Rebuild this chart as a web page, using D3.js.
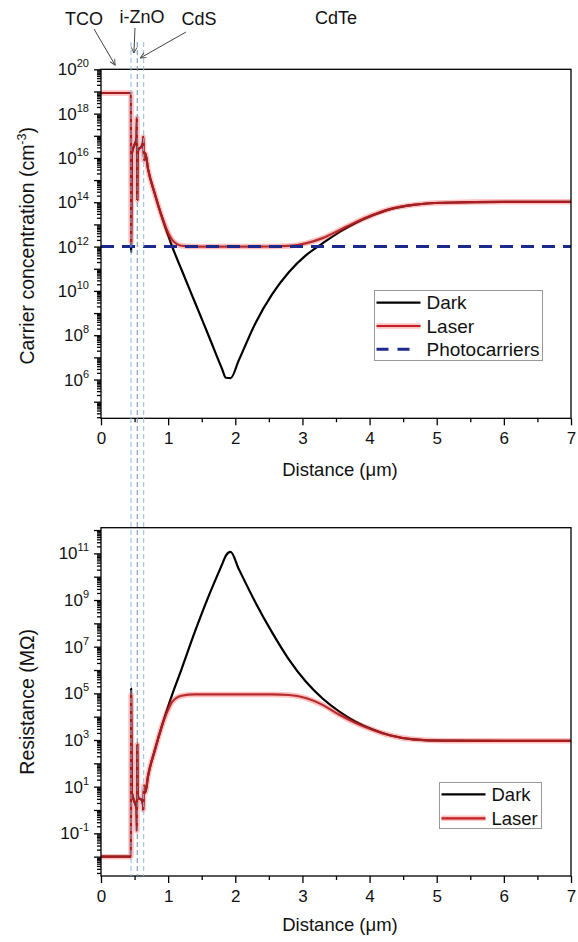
<!DOCTYPE html>
<html><head><meta charset="utf-8">
<script src="https://cdn.jsdelivr.net/npm/d3@7"></script>
<style>
body{margin:0;background:#fff}
svg{display:block;font-family:"Liberation Sans",Arial,Helvetica,sans-serif}
</style>
</head><body>
<svg id="c" width="578" height="942"></svg>
<script>
// ---------------- data ----------------
const distance = [0, 0.447, 0.448, 0.46, 0.50, 0.53, 0.535, 0.54, 0.545, 0.56, 0.60, 0.625, 0.63, 0.64, 0.66, 0.70, 0.80, 0.90, 1.00, 1.06, 1.20, 1.40, 1.60, 1.80, 1.86, 1.93, 2.05, 2.30, 2.55, 2.80, 3.05, 3.30, 3.55, 3.80, 4.05, 4.30, 4.65, 5.10, 6.00, 7.00];

// carrier concentration (cm^-3)
const darkCarrier  = [8.5e18, 8.5e18, 5.6e11, 1.6e16, 4.0e16, 7.9e16, 6.3e17, 1.3e14, 1.6e16, 2.5e16, 3.2e16, 5.0e16, 8.9e16, 7.9e15, 1.6e16, 3.2e15, 2.5e14, 2.5e13, 3.2e12, 1.0e12, 9.0e10, 3.0e9, 1.0e8, 3.2e6, 1.2e6, 1.15e6, 7.1e6, 3.5e8, 7.1e9, 7.1e10, 4.0e11, 1.4e12, 4.5e12, 1.2e13, 2.6e13, 4.8e13, 7.6e13, 9.5e13, 1.05e14, 1.05e14];
const laserCarrier = [8.5e18, 8.5e18, 1.56e12, 1.6e16, 4.0e16, 7.9e16, 6.3e17, 1.3e14, 1.6e16, 2.5e16, 3.2e16, 5.0e16, 8.9e16, 7.9e15, 1.6e16, 3.2e15, 2.5e14, 2.6e13, 4.2e12, 2.0e12, 1.09e12, 1.0e12, 1.0e12, 1.0e12, 1.0e12, 1.0e12, 1.0e12, 1.0e12, 1.01e12, 1.07e12, 1.4e12, 2.4e12, 5.5e12, 1.3e13, 2.7e13, 4.9e13, 7.6e13, 9.5e13, 1.05e14, 1.05e14];
const photoDistance = [0, 7];
const photoCarrier  = [1e12, 1e12];

// resistance (MOhm)
const darkResistance  = [0.01, 0.01, 1.6e5, 5.6, 2.2, 1.1, 0.13, 630, 5.0, 3.2, 2.8, 1.8, 1.0, 11, 5.6, 28, 350, 3500, 2.8e4, 8.9e4, 1.1e6, 4.5e7, 1.4e9, 3.2e10, 8.0e10, 1.15e11, 2.2e10, 7.9e8, 4.0e7, 2.8e6, 3.2e5, 6.0e4, 1.66e4, 6.0e3, 2.8e3, 1.6e3, 1.07e3, 940, 920, 920];
const laserResistance = [0.01, 0.01, 8.5e4, 5.6, 2.2, 1.1, 0.13, 630, 5.0, 3.2, 2.8, 1.8, 1.0, 11, 5.6, 28, 350, 3400, 2.0e4, 4.3e4, 7.9e4, 9.0e4, 9.0e4, 9.0e4, 9.0e4, 9.0e4, 9.0e4, 9.0e4, 9.0e4, 8.5e4, 6.3e4, 3.2e4, 1.2e4, 5.2e3, 2.7e3, 1.6e3, 1.07e3, 940, 920, 920];

// layer interfaces and labels
const interfaces = [0.447, 0.54, 0.636];
const distanceTicks = [0, 1, 2, 3, 4, 5, 6, 7];
const distanceMinor = [0.5, 1.5, 2.5, 3.5, 4.5, 5.5, 6.5];
const carrierTickExponents = [6, 8, 10, 12, 14, 16, 18, 20];
const resistanceTickExponents = [-1, 1, 3, 5, 7, 9, 11];

// ---------------- layout ----------------
const svg = d3.select("#c");
const L = 101, R = 571;
const top1 = 69.3, bot1 = 418.3, top2 = 527.7, bot2 = 876;

const x = d3.scaleLinear().domain([0, 7]).range([L, R]);
const yTop = d3.scaleLog().domain([1.78e4, 1e20]).range([bot1, top1]);
const yBot = d3.scaleLog().domain([1.48e-3, 1.26e12]).range([bot2, top2]);

const FONT_TICK = 17;

function frame(t, b) {
  svg.append("rect").attr("x", L).attr("y", t).attr("width", R - L).attr("height", b - t)
    .attr("fill", "none").attr("stroke", "#000").attr("stroke-width", 1.3);
}

function xAxis(b) {
  const g1 = svg.append("g").attr("transform", `translate(0,${b})`)
    .call(d3.axisBottom(x).tickValues(distanceMinor).tickSize(4).tickFormat(""));
  g1.select(".domain").remove();
  const g2 = svg.append("g").attr("transform", `translate(0,${b})`)
    .call(d3.axisBottom(x).tickValues(distanceTicks).tickSize(7).tickPadding(7).tickFormat(d => d));
  g2.select(".domain").remove();
  g2.selectAll("text").attr("font-size", FONT_TICK).attr("font-family", "Liberation Sans, Arial, sans-serif").attr("fill", "#111");
  [g1, g2].forEach(g => g.selectAll("line").attr("stroke-width", 1.3));
}

function yAxis(scale, exps) {
  const [lo, hi] = scale.domain();
  const majors = [], minors = [];
  for (let e = Math.floor(Math.log10(lo)); e <= Math.ceil(Math.log10(hi)); e++) {
    const v = Math.pow(10, e);
    if (v >= lo && v <= hi * 1.0001) majors.push(v);
    for (let k = 2; k < 10; k++) { const m = k * v; if (m >= lo && m <= hi) minors.push(m); }
  }
  const g1 = svg.append("g").attr("transform", `translate(${L},0)`)
    .call(d3.axisLeft(scale).tickValues(minors).tickSize(4).tickFormat(""));
  g1.select(".domain").remove();
  const g2 = svg.append("g").attr("transform", `translate(${L},0)`)
    .call(d3.axisLeft(scale).tickValues(majors).tickSize(7).tickFormat(""));
  g2.select(".domain").remove();
  [g1, g2].forEach(g => g.selectAll("line").attr("stroke-width", 1.3));
  exps.forEach(e => {
    const t = svg.append("text").attr("x", L - 12).attr("y", scale(Math.pow(10, e)) + 6)
      .attr("text-anchor", "end").attr("font-size", FONT_TICK).attr("fill", "#111");
    t.append("tspan").text("10");
    t.append("tspan").attr("dy", -8).attr("font-size", 11).text(String(e));
  });
}

function drawSeries(parent, scale, xs, ys, kind) {
  const pts = xs.map((d, i) => [d, ys[i]]);
  const line = d3.line().x(d => x(d[0])).y(d => scale(d[1])).curve(d3.curveMonotoneX);
  if (kind === "dark") {
    parent.append("path").attr("d", line(pts)).attr("fill", "none").attr("stroke", "#000")
      .attr("stroke-width", 2.2).attr("stroke-linejoin", "round");
  } else if (kind === "laser") {
    parent.append("path").attr("d", line(pts)).attr("fill", "none").attr("stroke", "#ff3030")
      .attr("stroke-width", 5.5).attr("stroke-opacity", 0.3).attr("stroke-linejoin", "round");
    parent.append("path").attr("d", line(pts)).attr("fill", "none").attr("stroke", "#b01e22")
      .attr("stroke-width", 2.2).attr("stroke-opacity", 0.92).attr("stroke-linejoin", "round");
  } else {
    parent.append("path").attr("d", line(pts)).attr("fill", "none").attr("stroke", "#1c2a8c")
      .attr("stroke-width", 3).attr("stroke-dasharray", "13,8");
  }
}

// defs
const defs = svg.append("defs");
defs.append("clipPath").attr("id", "clipTop").append("rect").attr("x", L).attr("y", top1).attr("width", R - L).attr("height", bot1 - top1);
defs.append("clipPath").attr("id", "clipBot").append("rect").attr("x", L).attr("y", top2).attr("width", R - L).attr("height", bot2 - top2);
defs.append("marker").attr("id", "arr").attr("viewBox", "0 0 10 10").attr("refX", 9).attr("refY", 5)
  .attr("markerWidth", 7).attr("markerHeight", 7).attr("orient", "auto")
  .append("path").attr("d", "M1,1 L9,5 L1,9").attr("fill", "none").attr("stroke", "#444").attr("stroke-width", 1.3);

// ---------------- top panel ----------------
const gTop = svg.append("g").attr("clip-path", "url(#clipTop)");
drawSeries(gTop, yTop, distance, darkCarrier, "dark");
drawSeries(gTop, yTop, distance, laserCarrier, "laser");
drawSeries(gTop, yTop, photoDistance, photoCarrier, "photo");
frame(top1, bot1);
xAxis(bot1);
yAxis(yTop, carrierTickExponents);

// ---------------- bottom panel ----------------
const gBot = svg.append("g").attr("clip-path", "url(#clipBot)");
drawSeries(gBot, yBot, distance, darkResistance, "dark");
drawSeries(gBot, yBot, distance, laserResistance, "laser");
frame(top2, bot2);
xAxis(bot2);
yAxis(yBot, resistanceTickExponents);

// ---------------- interface lines ----------------
interfaces.forEach((d, i) => {
  svg.append("line").attr("x1", x(d)).attr("x2", x(d)).attr("y1", 42).attr("y2", bot2)
    .attr("stroke", i === 1 ? "#6d8aa8" : "#8fbbe0").attr("stroke-width", 1).attr("stroke-dasharray", "5,3");
});

// ---------------- titles ----------------
[476, 931].forEach(yb => {
  svg.append("text").attr("x", 340).attr("y", yb).attr("text-anchor", "middle")
    .attr("font-size", 18.5).attr("fill", "#111").text("Distance (μm)");
});
{
  const t = svg.append("text").attr("transform", `translate(34,${(top1 + bot1) / 2 + 2}) rotate(-90)`)
    .attr("text-anchor", "middle").attr("font-size", 19.5).attr("fill", "#111");
  t.append("tspan").text("Carrier concentration (cm");
  t.append("tspan").attr("dy", -8).attr("font-size", 12.5).text("-3");
  t.append("tspan").attr("dy", 8).text(")");
}
svg.append("text").attr("transform", `translate(34,${(top2 + bot2) / 2}) rotate(-90)`)
  .attr("text-anchor", "middle").attr("font-size", 19.5).attr("fill", "#111").text("Resistance (MΩ)");

// ---------------- annotations ----------------
svg.append("text").attr("x", 336).attr("y", 24).attr("text-anchor", "middle").attr("font-size", 18).attr("fill", "#111").text("CdTe");
const ann = [
  {label: "TCO",   tx: 84,  ty: 25, x1: 94,  y1: 29, x2: x(0.21), y2: 65},
  {label: "i-ZnO", tx: 142, ty: 23, x1: 135, y1: 28, x2: x(0.49), y2: 53},
  {label: "CdS",   tx: 199, ty: 25, x1: 186, y1: 32, x2: x(0.585), y2: 58}
];
ann.forEach(a => {
  svg.append("text").attr("x", a.tx).attr("y", a.ty).attr("text-anchor", "middle").attr("font-size", 18).attr("fill", "#111").text(a.label);
  svg.append("line").attr("x1", a.x1).attr("y1", a.y1).attr("x2", a.x2).attr("y2", a.y2)
    .attr("stroke", "#444").attr("stroke-width", 1).attr("marker-end", "url(#arr)");
});

// ---------------- legends ----------------
function legend(bx, by, bw, bh, items) {
  svg.append("rect").attr("x", bx).attr("y", by).attr("width", bw).attr("height", bh)
    .attr("fill", "#fff").attr("stroke", "#999").attr("stroke-width", 1);
  items.forEach(it => {
    const yy = it.y;
    if (it.kind === "dark") {
      svg.append("line").attr("x1", bx + 2).attr("x2", bx + 46).attr("y1", yy).attr("y2", yy).attr("stroke", "#000").attr("stroke-width", 2.2);
    } else if (it.kind === "laser") {
      svg.append("line").attr("x1", bx + 2).attr("x2", bx + 46).attr("y1", yy).attr("y2", yy).attr("stroke", "#ff3030").attr("stroke-width", 5.5).attr("stroke-opacity", 0.3);
      svg.append("line").attr("x1", bx + 2).attr("x2", bx + 46).attr("y1", yy).attr("y2", yy).attr("stroke", "#c02226").attr("stroke-width", 2.2);
    } else {
      svg.append("line").attr("x1", bx + 2).attr("x2", bx + 40).attr("y1", yy).attr("y2", yy).attr("stroke", "#1c2a8c").attr("stroke-width", 3).attr("stroke-dasharray", "12,9");
    }
    svg.append("text").attr("x", bx + 52).attr("y", yy + 6.5).attr("font-size", it.fs).attr("fill", "#111").text(it.label);
  });
}
legend(374.5, 290.5, 168, 70, [
  {label: "Dark", kind: "dark", y: 302.7, fs: 19},
  {label: "Laser", kind: "laser", y: 326, fs: 19},
  {label: "Photocarriers", kind: "photo", y: 349.3, fs: 19}
]);
legend(439.5, 782.5, 102, 46, [
  {label: "Dark", kind: "dark", y: 794.3, fs: 18.5},
  {label: "Laser", kind: "laser", y: 818.3, fs: 18.5}
]);
</script>
</body></html>
